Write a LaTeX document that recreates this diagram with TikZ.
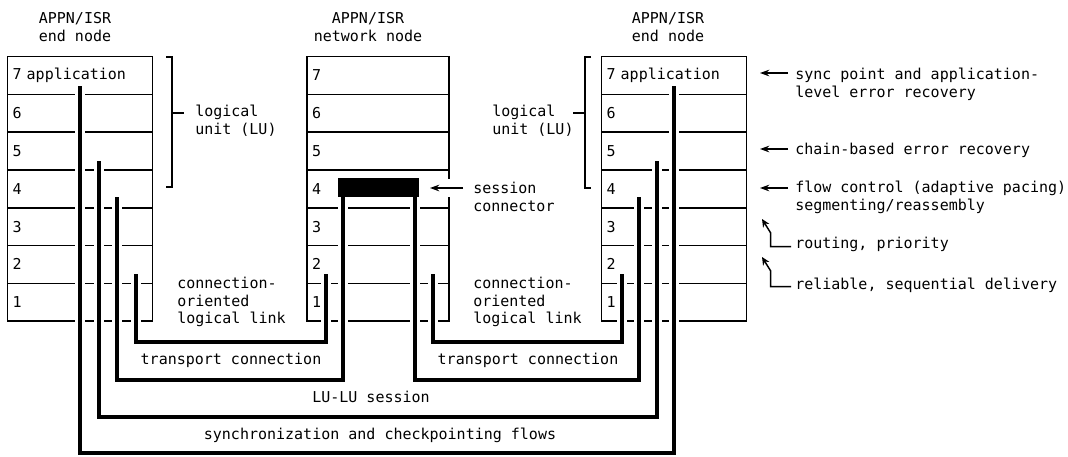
\documentclass[tikz,border=0pt]{standalone}
\usepackage{fontspec}
\newfontfamily\monofam{DejaVu Sans Mono}
\usetikzlibrary{arrows.meta}
\newcommand\lblfont{\monofam\fontsize{11.25pt}{13.3pt}\selectfont}
\begin{document}
\begin{tikzpicture}[x=0.75pt,y=-0.75pt,
  txt/.style={font=\lblfont, inner sep=0pt},
  row/.style={draw, line width=1.2pt, minimum height=28.35pt, align=left, inner xsep=3.75pt, inner ysep=0pt, font=\lblfont},
  rowL/.style={row, minimum width=108.75pt, text width=101pt},
  rowM/.style={row, minimum width=106.5pt, text width=98.75pt},
  bar/.style={line width=3pt, preaction={draw=white, line width=7.5pt}},
  pointer/.style={line width=1.1pt, -{Stealth[length=7pt,width=5pt]}},
  bentpointer/.style={line width=1.1pt, -{Stealth[length=6pt,width=5.5pt]}},
  bracket/.style={line width=1.1pt},
]
\path[use as bounding box] (0,0) rectangle (1068,457);

% headers
\node[txt, align=center] (hL) at (75,27) {APPN/ISR\\end node};
\node[txt, align=center] (hM) at (368,27) {APPN/ISR\\network node};
\node[txt, align=center] (hR) at (668,27) {APPN/ISR\\end node};

% layer stacks
\node[rowL] (L7) at (80,75.4) {7 application};
\node[rowM] (M7) at (378,75.4) {7};
\node[rowL] (R7) at (674,75.4) {7 application};
\foreach \k/\yc in {6/113.2,5/151,4/188.8,3/226.6,2/264.4,1/302.2} {
  \node[rowL] (L\k) at (80,\yc) {\k};
  \node[rowM] (M\k) at (378,\yc) {\k};
  \node[rowL] (R\k) at (674,\yc) {\k};
}

% logical unit brackets
\draw[bracket] (166,57) -- (172,57) -- (172,187) -- (166,187);
\draw[bracket] (172,113) -- (184,113);
\node[txt, align=left, anchor=west] (luTextL) at (195,121) {logical\\unit (LU)};
\draw[bracket] (591,57) -- (585,57) -- (585,188) -- (591,188);
\draw[bracket] (573,113) -- (585,113);
\node[txt, align=left, anchor=west] (luTextR) at (492,121) {logical\\unit (LU)};

% session connector
\node[fill=black, minimum width=60.75pt, minimum height=14.25pt, inner sep=0pt] (sc) at (378.5,187.5) {};
\node[txt, align=left, anchor=west] (scl) at (473,197) {session\\connector};
\coordinate (scA) at (463,188);
\coordinate (scB) at (430,188);
\draw[pointer, preaction={draw=white, line width=14pt, arrows=-}] (scA) -- (scB);

% bar end points
\coordinate (syncL) at (80,86);
\coordinate (syncR) at (674,86);
\coordinate (luL) at (98.5,161);
\coordinate (luR) at (657,161);
\coordinate (trL) at (117,197);
\coordinate (trM1) at (343,197);
\coordinate (trM2) at (415,197);
\coordinate (trR) at (639,197);
\coordinate (lkL) at (136,274);
\coordinate (lkM1) at (326,274);
\coordinate (lkM2) at (433,274);
\coordinate (lkR) at (622,274);

% flows
\draw[bar] (syncL) -- ++(0,367) -| (syncR);
\draw[bar] (luL) -- ++(0,256) -| (luR);
\draw[bar] (trL) -- ++(0,183) -| (trM1);
\draw[bar] (trM2) -- ++(0,183) -| (trR);
\draw[bar] (lkL) -- ++(0,68) -| (lkM1);
\draw[bar] (lkM2) -- ++(0,68) -| (lkR);

% flow labels
\node[txt, align=left, anchor=west] (colL) at (177,302) {connection-\\oriented\\logical link};
\node[txt, align=left, anchor=west] (colR) at (473,302) {connection-\\oriented\\logical link};
\node[txt] (tcL) at (231,360) {transport connection};
\node[txt] (tcR) at (528,360) {transport connection};
\node[txt] (lulu) at (371,397) {LU-LU session};
\node[txt] (syncT) at (380,435) {synchronization and checkpointing flows};

% right annotations
\node[txt, align=left, anchor=west] (a7) at (795,84) {sync point and application-\\level error recovery};
\coordinate (a7s) at (788,73); \coordinate (a7t) at (760,73);
\draw[pointer] (a7s) -- (a7t);
\node[txt, anchor=west] (a5) at (795,150) {chain-based error recovery};
\coordinate (a5s) at (788,149); \coordinate (a5t) at (760,149);
\draw[pointer] (a5s) -- (a5t);
\node[txt, align=left, anchor=west] (a4) at (795,197.5) {flow control (adaptive pacing)\\segmenting/reassembly};
\coordinate (a4s) at (788,188); \coordinate (a4t) at (760,188);
\draw[pointer] (a4s) -- (a4t);
\node[txt, anchor=west] (a3) at (795,244) {routing, priority};
\coordinate (a3s) at (791,246.7); \coordinate (a3t) at (762,219);
\draw[bentpointer] (a3s) -- (770.7,246.7) -- (770.7,233) -- (a3t);
\node[txt, anchor=west] (a2) at (795,285) {reliable, sequential delivery};
\coordinate (a2s) at (791,286.7); \coordinate (a2t) at (762,257);
\draw[bentpointer] (a2s) -- (770.7,286.7) -- (770.7,271) -- (a2t);
\end{tikzpicture}
\end{document}
